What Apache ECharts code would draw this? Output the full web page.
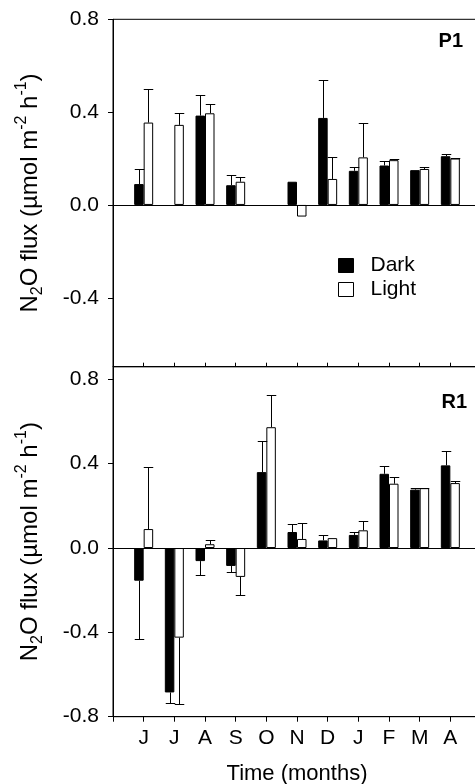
<!DOCTYPE html>
<html><head><meta charset="utf-8">
<script src="https://cdn.jsdelivr.net/npm/echarts@6/dist/echarts.min.js"></script>
<style>html,body{margin:0;padding:0;background:#fff}#c{width:475px;height:784px}</style>
</head><body><div id="c"></div>
<script>
// Months (June to April)
const months = ['J','J','A','S','O','N','D','J','F','M','A'];
const yTicks = [-0.8, -0.4, 0, 0.4, 0.8];
const yTicksTop = [-0.4, 0, 0.4, 0.8];

// Panel P1
const darkP1     = [0.09, null, 0.385, 0.085, null, 0.10, 0.375, 0.147, 0.17, 0.15, 0.21];
const darkP1Err  = [0.065, null, 0.09, 0.045, null, 0, 0.165, 0.015, 0.018, 0, 0.008];
const lightP1    = [0.355, 0.345, 0.395, 0.10, null, -0.05, 0.112, 0.205, 0.193, 0.155, 0.20];
const lightP1Err = [0.145, 0.052, 0.04, 0.02, null, 0, 0.093, 0.148, 0.003, 0.009, 0.003];

// Panel R1
const darkR1     = [-0.155, -0.685, -0.062, -0.085, 0.36, 0.076, 0.036, 0.062, 0.352, 0.277, 0.392];
const darkR1Err  = [0.278, 0.052, 0.067, 0.029, 0.146, 0.036, 0.027, 0.012, 0.037, 0.009, 0.068];
const lightR1    = [0.09, -0.425, 0.018, -0.137, 0.573, 0.043, 0.047, 0.084, 0.305, 0.284, 0.308];
const lightR1Err = [0.292, 0.317, 0.02, 0.084, 0.152, 0.074, 0, 0.043, 0.03, 0.002, 0.008];

const FONT = "'Liberation Sans', Arial, Helvetica, sans-serif";
const cats = ['', ...months, ''];
const pad = a => [null, ...a, null];
const BW = 9.5;

const darkStyle = {color:'#000', borderColor:'#000', borderWidth:1};
const lightStyle = {color:'#fff', borderColor:'#000', borderWidth:1};

function barSeries(name, gi, vals, style, withZero) {
  const s = {
    type:'bar', name, xAxisIndex:gi, yAxisIndex:gi, data: pad(vals),
    barWidth: BW, barGap: '0%', itemStyle: style, z: 2
  };
  if (withZero) {
    s.markLine = {silent:true, symbol:['none','none'], label:{show:false},
      lineStyle:{color:'#000', width:1, type:'solid'}, data:[{yAxis:0}], animation:false};
  }
  return s;
}

function errSeries(name, gi, vals, errs, side) {
  const data = [];
  vals.forEach((v, i) => {
    if (v == null || !errs[i]) return;
    data.push([i + 1, v, v >= 0 ? v + errs[i] : v - errs[i]]);
  });
  return {
    type:'custom', name: name + ' err', xAxisIndex:gi, yAxisIndex:gi, z: 3,
    data,
    renderItem(params, api) {
      const x = api.value(0), v = api.value(1), e = api.value(2);
      const p0 = api.coord([x, v]), p1 = api.coord([x, e]);
      const cx = Math.round(p0[0] + side * BW / 2) + 0.5;
      const y1 = Math.round(p1[1]) + 0.5;
      return {type:'group', children:[
        {type:'line', shape:{x1:cx, y1:p0[1], x2:cx, y2:y1}, style:{stroke:'#000', lineWidth:1}},
        {type:'line', shape:{x1:cx - BW/2, y1:y1, x2:cx + BW/2, y2:y1}, style:{stroke:'#000', lineWidth:1}}
      ]};
    }
  };
}

const yName = '{m|N}{sub|2}{m|O flux (µmol m}{sup|-2}{m| h}{sup|-1}{m|)}';
const yNameRich = {
  m:{fontSize:24, fontFamily:FONT, color:'#000', lineHeight:32},
  sub:{fontSize:16, fontFamily:FONT, color:'#000', lineHeight:17, verticalAlign:'bottom'},
  sup:{fontSize:16, fontFamily:FONT, color:'#000', lineHeight:17, verticalAlign:'top'}
};

function yAxis(gi, min, max, ticks) {
  return {
    type:'value', gridIndex:gi, min, max,
    axisLine:{show:true, lineStyle:{color:'#000', width:1}},
    axisTick:{show:true, inside:false, length:5, customValues:ticks, lineStyle:{color:'#000'}},
    axisLabel:{customValues:ticks, formatter:v => v.toFixed(1), fontSize:21, fontFamily:FONT, color:'#000', margin:14},
    splitLine:{show:false},
    name: yName, nameLocation:'middle', nameRotate:90, nameGap:67,
    nameTextStyle:{rich:yNameRich}
  };
}

const gridBase = {left:113, width:368, show:true, borderColor:'#000', borderWidth:1,
  backgroundColor:'transparent', containLabel:false, outerBoundsMode:'none'};

const option = {
  animation:false,
  backgroundColor:'#fff',
  grid:[
    Object.assign({}, gridBase, {top:19.3, height:347.4}),
    Object.assign({}, gridBase, {top:366.7, height:350})
  ],
  xAxis:[
    {type:'category', gridIndex:0, data:cats, boundaryGap:false,
      axisLine:{show:true, onZero:false, lineStyle:{color:'#000'}},
      axisTick:{show:true, inside:true, length:4, lineStyle:{color:'#000'}},
      axisLabel:{show:false}, splitLine:{show:false}},
    {type:'category', gridIndex:1, data:cats, boundaryGap:false,
      axisLine:{show:true, onZero:false, lineStyle:{color:'#000'}},
      axisTick:{show:true, inside:false, length:5, lineStyle:{color:'#000'}},
      axisLabel:{show:true, interval:0, fontSize:21, fontFamily:FONT, color:'#000', margin:11},
      splitLine:{show:false},
      name:'Time (months)', nameLocation:'middle', nameGap:46,
      nameTextStyle:{fontSize:22, fontFamily:FONT, color:'#000'}}
  ],
  yAxis:[
    yAxis(0, -0.697, 0.8, yTicksTop),
    yAxis(1, -0.8, 0.86, yTicks)
  ],
  legend:{
    orient:'vertical', left:338, top:255, padding:0, itemWidth:15, itemHeight:14, itemGap:3,
    icon:'rect',
    textStyle:{fontSize:21, fontFamily:FONT, color:'#000', padding:[0,0,0,12]},
    data:[
      {name:'Dark', itemStyle:darkStyle},
      {name:'Light', itemStyle:lightStyle}
    ]
  },
  graphic:[
    {type:'text', right:12, top:31, style:{text:'P1', font:'bold 20px ' + FONT, fill:'#000'}},
    {type:'text', right:8, top:392, style:{text:'R1', font:'bold 20px ' + FONT, fill:'#000'}}
  ],
  series:[
    barSeries('Dark', 0, darkP1, darkStyle, true),
    barSeries('Light', 0, lightP1, lightStyle, false),
    errSeries('Dark', 0, darkP1, darkP1Err, -1),
    errSeries('Light', 0, lightP1, lightP1Err, 1),
    barSeries('Dark', 1, darkR1, darkStyle, true),
    barSeries('Light', 1, lightR1, lightStyle, false),
    errSeries('Dark', 1, darkR1, darkR1Err, -1),
    errSeries('Light', 1, lightR1, lightR1Err, 1)
  ]
};
const chart = echarts.init(document.getElementById('c'), null, {renderer:'canvas'});
chart.setOption(option);
</script>
</body></html>
